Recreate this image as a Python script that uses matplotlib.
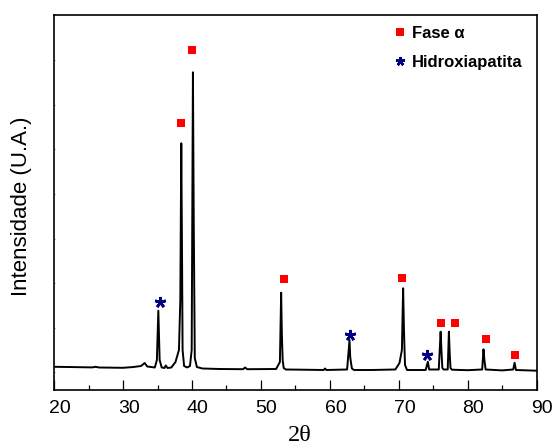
import matplotlib.pyplot as plt
import matplotlib.transforms as mtransforms
from matplotlib.lines import Line2D

# Difratograma (DRX)
two_theta = [20.0, 22.0, 25.5, 26.0, 26.5, 30.0, 31.5, 32.6, 33.13, 33.5, 34.6,
             34.9, 35.11, 35.3, 35.6, 36.0, 36.19, 36.45, 37.0, 37.6, 38.1,
             38.3, 38.44, 38.55, 38.63, 38.85, 39.3, 39.7, 39.95, 40.13, 40.25,
             40.4, 40.7, 41.5, 44.0, 47.4, 47.7, 48.0, 52.2, 52.75, 52.93, 53.03,
             53.15, 53.3, 53.6, 56.0, 59.1, 59.3, 59.5, 62.5, 62.85, 62.95, 63.05,
             63.2, 63.5, 66.0, 69.5, 70.1, 70.45, 70.63, 70.75, 70.9, 71.2, 73.9,
             74.22, 74.4, 75.8, 76.07, 76.2, 76.32, 76.5, 77.1, 77.27, 77.38, 77.5,
             77.7, 80.0, 82.1, 82.29, 82.42, 82.6, 85.0, 86.6, 86.8, 87.0, 90.0]
intensity = [23.2, 23.0, 22.6, 23.2, 22.5, 22.2, 23.0, 24.0, 27.0, 23.5, 22.5,
             30.0, 79.3, 30.0, 22.5, 22.0, 24.5, 22.0, 22.5, 28.0, 40.0,
             90.0, 246.7, 133.0, 40.0, 24.0, 22.5, 24.0, 40.0, 317.7, 167.0,
             32.0, 23.0, 21.5, 21.0, 20.8, 22.5, 20.8, 21.0, 28.0, 97.3, 57.0,
             30.0, 22.0, 20.5, 20.3, 20.0, 21.5, 20.0, 20.5, 50.0, 33.0, 28.0,
             21.5, 20.0, 20.0, 20.5, 27.0, 40.0, 101.7, 60.0, 25.0, 20.0, 20.0,
             28.3, 20.5, 20.5, 58.3, 38.0, 22.0, 20.5, 20.5, 58.3, 38.0, 22.0,
             20.3, 19.8, 20.5, 40.7, 30.0, 20.5, 19.6, 20.5, 27.3, 20.0, 19.3]

# marcadores das fases
alpha_x = [38.44, 39.98, 53.28, 70.53, 76.16, 78.2, 82.66, 86.9]
alpha_y = [266.7, 340.0, 110.7, 111.7, 66.7, 66.7, 50.7, 34.7]
ha_x = [35.37, 62.9, 74.11]
ha_y = [88.3, 55.0, 34.7]

legend_labels = ['Fase α', 'Hidroxiapatita']

plt.rcParams['font.family'] = ['Liberation Sans', 'DejaVu Sans']

fig = plt.figure(figsize=(5.53, 4.45), dpi=100)
ax = fig.add_axes([0.098, 0.1236, 0.8724, 0.8427])

ax.plot(two_theta, intensity, color='black', lw=1.4)

star = (5, 2, 0)
ax.plot(alpha_x, alpha_y, ls='none', marker='s', ms=6, color='#ff0000', mew=0)
ax.plot(ha_x, ha_y, ls='none', marker=star, ms=8, mew=1.9,
        color='#000080', mec='#000080')

ax.set_xlim(20, 90)
ax.set_ylim(0, 375)
ax.set_xticks(range(20, 91, 10))
ax.set_xticks(range(25, 90, 10), minor=True)
ax.set_yticks([17.5 + 44.6 * k for k in range(8)])
ax.set_yticklabels([])

ax.tick_params(axis='x', which='major', direction='in', length=7, width=0.9,
               labelsize=14, pad=7.4)
ax.tick_params(axis='x', which='minor', direction='in', length=3.4, width=0.9)
ax.tick_params(axis='y', which='major', direction='in', length=0.8, width=0.5,
               color='#555555')
for s in ax.spines.values():
    s.set_linewidth(1.2)

# rotulos do eixo x um pouco deslocados para a direita (como no original)
offset = mtransforms.ScaledTranslation(5.6 / 100, 0, fig.dpi_scale_trans)
for lab in ax.get_xticklabels():
    lab.set_transform(lab.get_transform() + offset)

ax.set_xlabel('2θ', fontsize=17.5, family=['Liberation Serif', 'DejaVu Serif'])
ax.xaxis.set_label_coords(0.508, -0.093)
ax.set_ylabel('Intensidade (U.A.)', fontsize=16)
ax.yaxis.set_label_coords(-0.046, 0.49)

handles = [Line2D([], [], ls='none', marker='s', ms=6, color='#ff0000', mew=0),
           Line2D([], [], ls='none', marker=star, ms=6.5, mew=1.8,
                  color='#000080', mec='#000080')]
ax.legend(handles, legend_labels, loc='upper left', bbox_to_anchor=(0.704, 0.9715),
          frameon=False, borderpad=0, borderaxespad=0, handlelength=0.8,
          handletextpad=0.3, labelspacing=0.85,
          prop={'size': 12, 'weight': 'bold'})

plt.savefig('out.png', dpi=100)
